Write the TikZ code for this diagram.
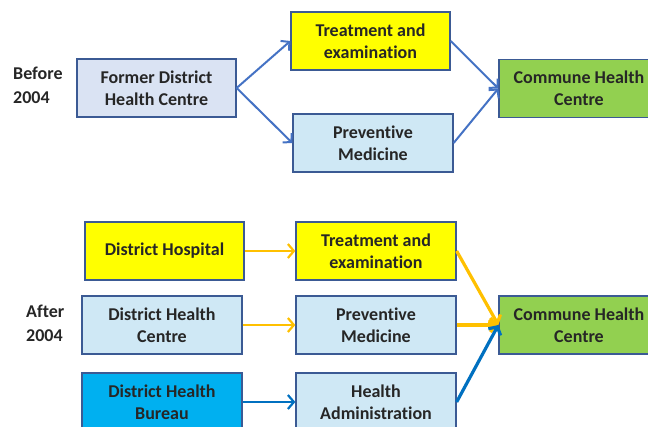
\documentclass[tikz,border=0pt]{standalone}
\usepackage{fontspec}
\setmainfont{Carlito}[RawFeature={-liga}]
\usetikzlibrary{arrows.meta}
\definecolor{txt}{HTML}{262626}
\definecolor{bord}{HTML}{3B5A94}
\definecolor{lav}{HTML}{DAE3F3}
\definecolor{ylw}{HTML}{FFFF00}
\definecolor{ltblue}{HTML}{CFE8F5}
\definecolor{cyanb}{HTML}{00B0F0}
\definecolor{grn}{HTML}{92D050}
\definecolor{arrblue}{HTML}{4472C4}
\definecolor{orng}{HTML}{FFC000}
\definecolor{dblue}{HTML}{0070C0}
\tikzset{
  x=1pt, y=-1pt,
  box/.style={draw=bord, line width=1.3pt, minimum width=159pt, minimum height=58pt,
    inner sep=1pt, align=center, text=txt, font=\fontsize{18}{22}\selectfont\bfseries},
  lbl/.style={align=left, anchor=west, text=txt, inner sep=0pt, font=\fontsize{18}{24}\selectfont\bfseries},
  tarr/.style={-{Straight Barb[length=6pt,width=13pt]}, draw=arrblue, line width=2pt},
  oarr/.style={-{Straight Barb[length=6pt,width=14pt]}, draw=orng, line width=2.2pt},
  barr/.style={-{Straight Barb[length=6pt,width=14pt]}, draw=dblue, line width=2.2pt},
}
\begin{document}
\begin{tikzpicture}
\useasboundingbox (0,0) rectangle (648,427);
% top
\node[lbl] (before) at (13,85) {Before\\2004};
\node[box, fill=lav] (former) at (156.5,88) {Former District\\Health Centre};
\node[box, fill=ylw] (treat1) at (370.5,41) {Treatment and\\examination};
\node[box, fill=ltblue, minimum width=160pt] (prev1) at (373,143) {Preventive\\Medicine};
\node[box, fill=grn, minimum width=160pt] (comm1) at (579,88.5) {Commune Health\\Centre};
\draw[tarr] (former.east) -- (treat1.west);
\draw[tarr] (former.east) -- (prev1.west);
\draw[tarr] (treat1.east) -- (comm1.west);
\draw[tarr] (prev1.east) -- (comm1.west);
% bottom
\node[lbl] (after) at (26,323.5) {After\\2004};
\node[box, fill=ylw] (hosp) at (164.5,251) {District Hospital};
\node[box, fill=ltblue, minimum width=160pt] (dhc) at (162,325) {District Health\\Centre};
\node[box, fill=cyanb, minimum width=160pt] (bureau) at (162,402) {District Health\\Bureau};
\node[box, fill=ylw, minimum width=160pt] (treat2) at (376,251) {Treatment and\\examination};
\node[box, fill=ltblue, minimum width=160pt] (prev2) at (376,325) {Preventive\\Medicine};
\node[box, fill=ltblue, minimum width=160pt] (admin) at (376,402) {Health\\Administration};
\node[box, fill=grn, minimum width=160pt] (comm2) at (579,325) {Commune Health\\Centre};
\draw[oarr] (hosp.east) -- (treat2.west);
\draw[oarr] (dhc.east) -- (prev2.west);
\draw[barr] (bureau.east) -- (admin.west);
\draw[oarr, line width=3.2pt] (treat2.east) -- (comm2.west);
\draw[oarr, line width=3.2pt] (prev2.east) -- (comm2.west);
\draw[barr, line width=3.2pt] (admin.east) -- (comm2.west);
\end{tikzpicture}
\end{document}
